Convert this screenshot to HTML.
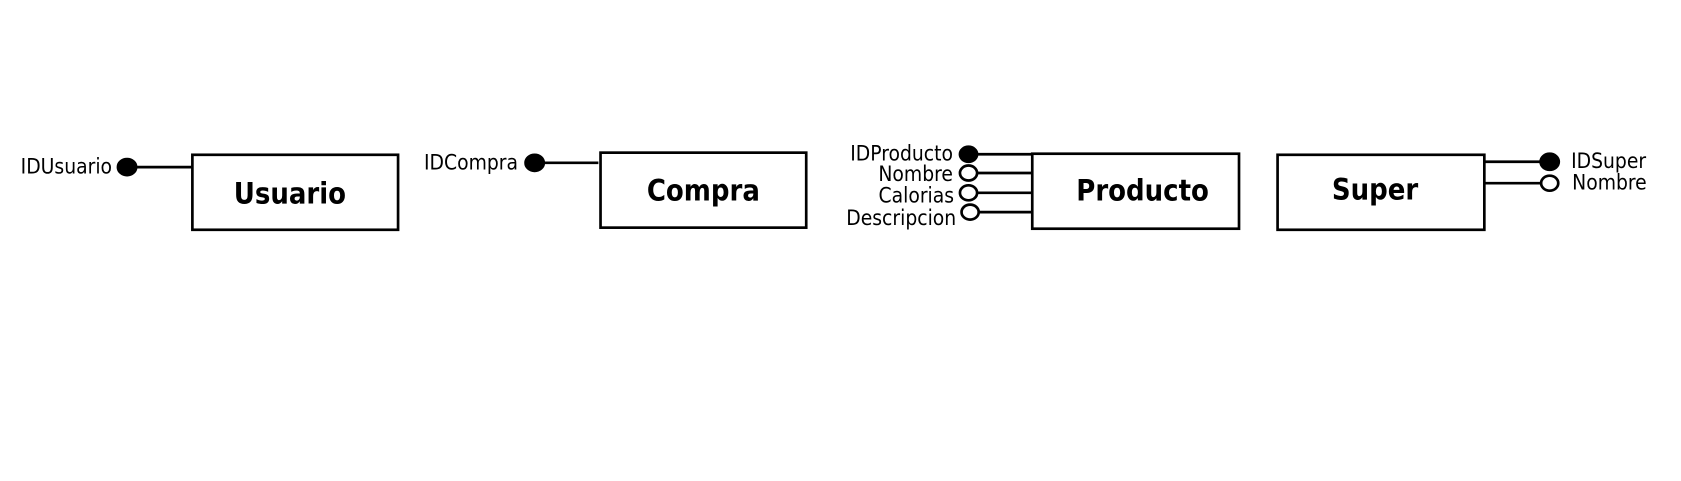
<!DOCTYPE html>
<html><head><style>html,body{margin:0;padding:0;background:#fff}svg{display:block}</style></head>
<body>
<svg width="1681" height="481" viewBox="0 0 1568 449" xmlns="http://www.w3.org/2000/svg" font-family="'DejaVu Sans Condensed','DejaVu Sans','Liberation Sans',sans-serif" font-stretch="condensed">
<g stroke="#000" stroke-width="2.5" fill="none">
<rect x="179" y="144.5" width="192" height="70" fill="#fff"/>
<rect x="560" y="142.5" width="192" height="70" fill="#fff"/>
<rect x="963" y="143.5" width="193" height="70" fill="#fff"/>
<rect x="1192" y="144.5" width="193" height="70" fill="#fff"/>
<line x1="127" y1="156" x2="179" y2="156"/>
<line x1="507" y1="152" x2="558" y2="152"/>
<line x1="912" y1="144" x2="963" y2="144"/>
<line x1="912" y1="161.5" x2="963" y2="161.5"/>
<line x1="912" y1="180" x2="963" y2="180"/>
<line x1="912" y1="198" x2="963" y2="198"/>
<line x1="1385" y1="151" x2="1437" y2="151"/>
<line x1="1385" y1="171" x2="1437" y2="171"/>
</g>
<g stroke="#000" stroke-width="2.5">
<ellipse cx="118" cy="156" rx="8.5" ry="7.5" fill="#000"/>
<ellipse cx="498.5" cy="152" rx="8.5" ry="7.5" fill="#000"/>
<ellipse cx="903.5" cy="144" rx="8" ry="7" fill="#000"/>
<ellipse cx="903.5" cy="161.5" rx="8" ry="7" fill="#fff"/>
<ellipse cx="903.5" cy="180" rx="8" ry="7" fill="#fff"/>
<ellipse cx="905" cy="198" rx="8" ry="7" fill="#fff"/>
<ellipse cx="1446" cy="151" rx="8.5" ry="7.5" fill="#000"/>
<ellipse cx="1446" cy="171" rx="8" ry="7" fill="#fff"/>
</g>
<g font-weight="bold" font-size="27" text-anchor="middle">
<text x="270" y="190">Usuario</text>
<text x="656" y="187">Compra</text>
<text x="1066" y="187">Producto</text>
<text x="1283" y="186">Super</text>
</g>
<g font-size="19.5" text-anchor="end">
<text x="104" y="162">IDUsuario</text>
<text x="483" y="158">IDCompra</text>
<text x="889" y="150">IDProducto</text>
<text x="889" y="169">Nombre</text>
<text x="890" y="189">Calorias</text>
<text x="892" y="210">Descripcion</text>
</g>
<g font-size="19.5">
<text x="1466" y="157">IDSuper</text>
<text x="1467" y="177">Nombre</text>
</g>
</svg>
</body></html>
